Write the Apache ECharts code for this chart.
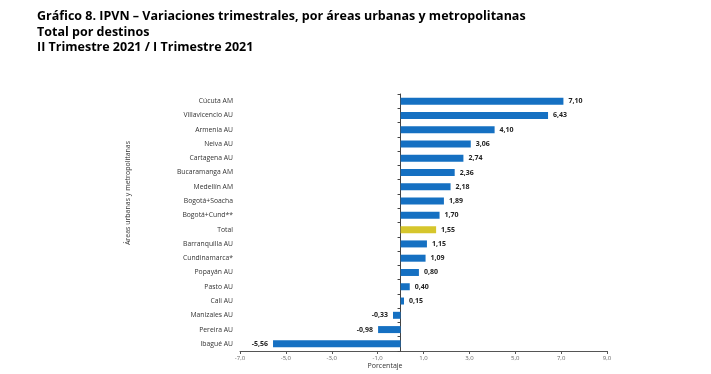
<!DOCTYPE html>
<html><head><meta charset="utf-8">
<script src="https://cdn.jsdelivr.net/npm/echarts@6/dist/echarts.min.js"></script>
<style>html,body{margin:0;padding:0;background:#fff}#c{width:711px;height:374px}</style>
</head><body><div id="c"></div>
<script>
const categories = ["Cúcuta AM","Villavicencio AU","Armenia AU","Neiva AU","Cartagena AU","Bucaramanga AM","Medellín AM","Bogotá+Soacha","Bogotá+Cund**","Total","Barranquilla AU","Cundinamarca*","Popayán AU","Pasto AU","Cali AU","Manizales AU","Pereira AU","Ibagué AU"];
const values = [7.10,6.43,4.10,3.06,2.74,2.36,2.18,1.89,1.70,1.55,1.15,1.09,0.80,0.40,0.15,-0.33,-0.98,-5.56];
const xTicks = [-7,-5,-3,-1,1,3,5,7,9];
const titleLines = ["Gráfico 8. IPVN – Variaciones trimestrales, por áreas urbanas y metropolitanas","Total por destinos","II Trimestre 2021 / I Trimestre 2021"];

const font = "'Open Sans', sans-serif";
const chart = echarts.init(document.getElementById('c'));
const fmt = v => v.toFixed(2).replace('.', ',');
chart.setOption({
  animation:false,
  graphic:[
    {type:'text', left:37, top:9, style:{text:titleLines.join('\n'), font:"bold 12.5px "+font, lineHeight:15.5, fill:'#000'}},
    {type:'text', x:128, y:193, rotation:Math.PI/2, style:{text:'Áreas urbanas y metropolitanas', font:"7px "+font, fill:'#333', align:'center', verticalAlign:'middle'}},
    {type:'text', x:385, y:366, style:{text:'Porcentaje', font:"7px "+font, fill:'#333', align:'center', verticalAlign:'middle'}}
  ],
  grid:{left:240, right:104, top:94, bottom:23},
  xAxis:{type:'value', min:-7, max:9,
    splitLine:{show:false},
    axisLine:{show:true, lineStyle:{color:'#555', width:1}},
    axisTick:{show:true, length:3, lineStyle:{color:'#555'}, customValues:xTicks},
    axisLabel:{customValues:xTicks, formatter:v=>v.toFixed(1).replace('.',','), fontSize:6, color:'#666', fontFamily:font, margin:4}
  },
  yAxis:[
    {type:'category', data:categories, inverse:true, position:'left',
      axisLine:{show:false, onZero:false}, axisTick:{show:false},
      axisLabel:{fontSize:6.8, color:'#333', fontFamily:font, margin:7, interval:0}},
    {type:'category', data:categories, inverse:true, position:'left',
      axisLine:{show:true, onZero:true, lineStyle:{color:'#444'}},
      axisTick:{show:true, length:3, interval:0, inside:false, lineStyle:{color:'#444'}},
      axisLabel:{show:false}}
  ],
  series:[{type:'bar', yAxisIndex:0, barWidth:7,
    data:values.map((v,i)=>({value:v, itemStyle:{color: categories[i]==='Total' ? '#D6C62C' : '#1570C2'},
      label:{position: v<0 ? 'left':'right'}})),
    label:{show:true, formatter:p=>fmt(p.value), fontSize:7, fontWeight:'bold', color:'#222', fontFamily:font, distance:5}
  }]
});
</script></body></html>
